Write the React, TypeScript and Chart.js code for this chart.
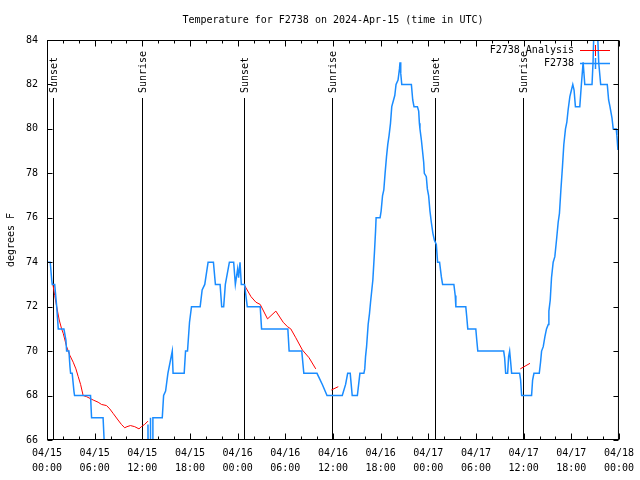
import React, { useEffect, useRef } from "react";
import { Chart, registerables } from "chart.js";

Chart.register(...registerables);

const TITLE = "Temperature for F2738 on 2024-Apr-15 (time in UTC)";
const Y_LABEL = "degrees F";
const X_TICK_DATES = ["04/15", "04/15", "04/15", "04/15", "04/16", "04/16", "04/16", "04/16", "04/17", "04/17", "04/17", "04/17", "04/18"];
const X_TICK_TIMES = ["00:00", "06:00", "12:00", "18:00", "00:00", "06:00", "12:00", "18:00", "00:00", "06:00", "12:00", "18:00", "00:00"];
const EVENT_HOURS = [0.75, 11.92, 24.84, 35.88, 48.8, 59.96];
const EVENT_LABELS = ["Sunset", "Sunrise", "Sunset", "Sunrise", "Sunset", "Sunrise"];
const LEGEND_LABELS = ["F2738 Analysis", "F2738"];

// hours since 04/15 00:00 UTC
const OBS_HOURS = [
  0, 0.41, 0.59, 0.66, 0.97, 1.07, 1.22, 1.42, 2.13, 2.38, 2.47, 2.76, 2.89, 2.97, 3.17, 3.39, 3.47, 5.48, 5.61, 7.06, 7.19, 7.3,
  12.68, 12.71, 12.75, 12.98, 13.01, 13.05, 13.3, 13.33, 14.51, 14.68, 14.93, 15.22, 15.77, 15.87, 17.27, 17.44, 17.69, 17.94,
  18.19, 19.28, 19.53, 19.86, 20.28, 20.95, 21.2, 21.79, 21.99, 22.24, 22.45, 22.96, 23.5, 23.71, 24.0, 24.12, 24.3, 24.46,
  24.87, 25.21, 26.84, 27.01, 30.32, 30.48, 32.07, 32.33, 33.99, 34.66, 35.25, 37.17, 37.59, 37.85, 38.17, 38.42, 39.07,
  39.39, 39.89, 40.0, 40.1, 40.23, 40.43, 40.6, 40.73, 40.89, 41.02, 41.1, 41.23, 41.36, 41.43, 41.93, 42.06, 42.24, 42.4,
  42.56, 42.74, 42.9, 43.06, 43.24, 43.4, 43.78, 43.94, 44.19, 44.37, 44.44, 44.53, 44.66, 45.87, 46.04, 46.2, 46.63, 46.79,
  46.88, 46.95, 47.13, 47.42, 47.5, 47.75, 47.88, 48.04, 48.21, 48.38, 48.58, 48.76, 49.01, 49.17, 49.42, 49.64, 49.8, 51.22,
  51.39, 51.47, 52.72, 52.85, 52.97, 53.98, 54.1, 54.23, 57.49, 57.61, 57.74, 57.99, 58.11, 58.24, 58.37, 58.49, 59.5, 59.62,
  59.75, 61.0, 61.13, 61.3, 61.97, 62.13, 62.26, 62.47, 62.68, 62.88, 63.1, 63.18, 63.35, 63.51, 63.72, 63.93, 64.14, 64.35,
  64.51, 64.69, 64.89, 65.06, 65.27, 65.44, 65.6, 65.82, 66.02, 66.19, 66.35, 66.52, 67.07, 67.27, 67.49, 67.7, 68.61, 68.74,
  68.86, 69.28, 69.45, 69.7, 70.53, 70.7, 70.87, 71.12, 71.28, 71.66, 71.74, 71.87,
];
const OBS_TEMPS = [
  74, 74, 73.2, 73, 73, 72.6, 72, 71, 71, 70.5, 70, 70, 69.3, 69, 69, 68.2, 68, 68, 67, 67, 66, 65,
  65, 66.7, 65, 65, 67, 65, 65, 67, 67, 68, 68.2, 69, 70, 69, 69, 70, 70, 71.3,
  72, 72, 72.75, 73, 74, 74, 73, 73, 72, 72, 73, 74, 74, 73, 73.7, 73.3, 74, 73,
  73, 72, 72, 71, 71, 70, 70, 69, 69, 68.5, 68, 68, 68.5, 69, 69, 68, 68,
  69, 69, 69.2, 69.75, 70.2, 71.2, 71.7, 72.2, 72.75, 73.2, 73.7, 74.5, 75.4, 76, 76, 76.3, 77, 77.25,
  78, 78.75, 79.3, 79.7, 80.25, 81, 81.5, 82, 82.2, 82.7, 83, 82.5, 82, 82, 81.3, 81, 81, 80.8,
  80.25, 80, 79.5, 78.5, 78, 77.85, 77.3, 77, 76.3, 75.8, 75.3, 75, 74.8, 74, 74, 73.35, 73, 73,
  72.5, 72, 72, 71.5, 71, 71, 70.5, 70, 70, 69.7, 69, 69, 69.75, 70, 69.5, 69, 69, 68.7,
  68, 68, 68.7, 69, 69, 69.5, 70, 70.2, 70.65, 71, 71.2, 71.8, 72.3, 73.3, 74, 74.25, 75, 75.8,
  76.2, 77.25, 78.3, 79.3, 80, 80.3, 80.85, 81.45, 81.75, 82, 81.75, 81, 81, 82, 83, 82, 82, 83,
  84.6, 84.6, 83, 82, 82, 81.3, 81, 80.5, 80, 80, 79.7, 79.05,
];

const ANALYSIS_HOURS = [
  0.72, 0.97, 1.22, 1.54, 1.84, 2.04, 2.47, 2.89, 3.3, 3.64, 3.93, 4.23, 4.55, 4.98, 5.81, 6.44, 6.86, 7.49, 7.9, 8.32, 8.94,
  9.37, 9.78, 10.07, 10.5, 11.04, 11.58, 11.88, 12.29, 12.71, 18,
  24.8, 25.68, 26.3, 26.84, 27.76, 28.81, 29.73, 30.27, 30.69, 31.32, 32.15, 32.99, 33.83, 35,
  35.79, 36.67, 48,
  59.58, 60.8,
];
const ANALYSIS_TEMPS = [
  73.05, 72.5, 72, 71.4, 71, 70.8, 70.2, 69.8, 69.5, 69.2, 68.85, 68.5, 68, 67.95, 67.8, 67.7, 67.6, 67.55, 67.4, 67.2, 66.9,
  66.7, 66.55, 66.6, 66.65, 66.6, 66.5, 66.6, 66.7, 66.85, null,
  73.0, 72.45, 72.2, 72.1, 71.45, 71.8, 71.3, 71.1, 71.0, 70.6, 70.05, 69.7, 69.2, null,
  68.25, 68.4, null,
  69.2, 69.45,
];

const X_MIN = 0;
const X_MAX = 72;
const Y_MIN = 66;
const Y_MAX = 84;

const FONT = "'DejaVu Sans Mono', monospace";
const BLUE = "#1a8cff";
const RED = "#ff0000";

const decorPlugin = {
  id: "gnuplotDecor",
  beforeDatasetsDraw(chart: any) {
    const { ctx, chartArea, scales } = chart;
    const xs = scales.x;
    ctx.save();
    ctx.strokeStyle = "#000";
    ctx.lineWidth = 1;
    ctx.fillStyle = "#000";
    ctx.font = `10px ${FONT}`;
    EVENT_HOURS.forEach((h, i) => {
      const px = Math.round(xs.getPixelForValue(h)) + 0.5;
      ctx.beginPath();
      ctx.moveTo(px, 98);
      ctx.lineTo(px, chartArea.bottom);
      ctx.stroke();
      ctx.save();
      ctx.translate(px + 0.5, 93);
      ctx.rotate(-Math.PI / 2);
      ctx.textAlign = "left";
      ctx.textBaseline = "middle";
      ctx.fillText(EVENT_LABELS[i], 0, 0);
      ctx.restore();
    });
    ctx.restore();
  },
  afterDatasetsDraw(chart: any) {
    const { ctx, chartArea, scales } = chart;
    const xs = scales.x;
    const ys = scales.y;
    const L = chartArea.left + 0.5;
    const R = chartArea.right - 0.5;
    const T = chartArea.top + 0.5;
    const B = chartArea.bottom - 0.5;
    ctx.save();
    ctx.strokeStyle = "#000";
    ctx.lineWidth = 1;
    ctx.beginPath();
    // y ticks both sides
    for (let v = Y_MIN; v <= Y_MAX; v += 2) {
      const py = Math.round(ys.getPixelForValue(v)) + 0.5;
      ctx.moveTo(L, py);
      ctx.lineTo(L + 5, py);
      ctx.moveTo(R, py);
      ctx.lineTo(R - 5, py);
    }
    // x ticks top and bottom
    for (let h = X_MIN; h <= X_MAX; h += 2) {
      const px = Math.round(xs.getPixelForValue(h)) + 0.5;
      const len = h % 6 === 0 ? 6 : 3;
      ctx.moveTo(px, B);
      ctx.lineTo(px, B - len);
      ctx.moveTo(px, T);
      ctx.lineTo(px, T + len);
    }
    ctx.stroke();
    ctx.strokeRect(L, T, R - L, B - T);
    ctx.restore();
  },
  afterDraw(chart: any) {
    const { ctx, chartArea } = chart;
    ctx.save();
    ctx.fillStyle = "#000";
    ctx.font = `10px ${FONT}`;
    ctx.textAlign = "center";
    ctx.textBaseline = "middle";
    ctx.fillText(TITLE, (chartArea.left + chartArea.right) / 2, 20);
    ctx.save();
    ctx.translate(11, (chartArea.top + chartArea.bottom) / 2);
    ctx.rotate(-Math.PI / 2);
    ctx.fillText(Y_LABEL, 0, 0);
    ctx.restore();
    // legend
    const colors = [RED, BLUE];
    LEGEND_LABELS.forEach((lab, i) => {
      const y = 50 + i * 13;
      ctx.textAlign = "right";
      ctx.fillStyle = "#000";
      ctx.fillText(lab, 574, y);
      ctx.strokeStyle = colors[i];
      ctx.lineWidth = i === 1 ? 1.5 : 1;
      ctx.beginPath();
      ctx.moveTo(580, y + 0.5);
      ctx.lineTo(610, y + 0.5);
      ctx.moveTo(595.5, y - 5);
      ctx.lineTo(595.5, y + 6);
      ctx.stroke();
    });
    ctx.restore();
  },
};

export default function App() {
  const ref = useRef<HTMLCanvasElement | null>(null);

  useEffect(() => {
    if (!ref.current) return;
    const obs = OBS_HOURS.map((h, i) => ({ x: h, y: OBS_TEMPS[i] }));
    const ana = ANALYSIS_HOURS.map((h, i) => ({ x: h, y: ANALYSIS_TEMPS[i] }));
    const chart = new Chart(ref.current, {
      type: "line",
      data: {
        datasets: [
          {
            label: "F2738",
            data: obs as any,
            borderColor: BLUE,
            borderWidth: 1.5,
            pointRadius: 0,
            tension: 0,
            fill: false,
          },
          {
            label: "F2738 Analysis",
            data: ana as any,
            borderColor: RED,
            borderWidth: 1,
            pointRadius: 0,
            tension: 0,
            fill: false,
            spanGaps: false,
          },
        ],
      },
      options: {
        animation: false,
        responsive: false,
        devicePixelRatio: 1,
        layout: { padding: { top: 40, right: 19, left: 0, bottom: 0 } },
        plugins: {
          legend: { display: false },
          title: { display: false },
          tooltip: { enabled: false },
        },
        scales: {
          x: {
            type: "linear",
            min: X_MIN,
            max: X_MAX,
            grid: { display: false, drawTicks: false },
            border: { display: false },
            ticks: {
              stepSize: 6,
              autoSkip: false,
              maxRotation: 0,
              minRotation: 0,
              padding: 6,
              color: "#000",
              font: { family: FONT, size: 10, lineHeight: 1.5 },
              callback: (v: any) => {
                const i = Math.round(Number(v) / 6);
                return [X_TICK_DATES[i], X_TICK_TIMES[i]];
              },
            },
            afterFit: (s: any) => {
              s.height = 40;
            },
          },
          y: {
            min: Y_MIN,
            max: Y_MAX,
            grid: { display: false, drawTicks: false },
            border: { display: false },
            ticks: {
              stepSize: 2,
              padding: 9,
              color: "#000",
              font: { family: FONT, size: 10 },
            },
            afterFit: (s: any) => {
              s.width = 47;
            },
          },
        },
      },
      plugins: [decorPlugin],
    });
    return () => chart.destroy();
  }, []);

  return (
    <div style={{ position: "fixed", left: 0, top: 0, width: 640, height: 480, background: "#fff" }}>
      <canvas ref={ref} width={640} height={480} style={{ width: 640, height: 480 }} />
    </div>
  );
}
